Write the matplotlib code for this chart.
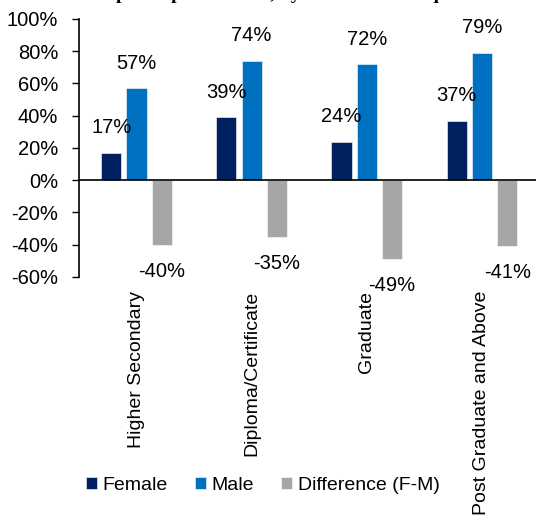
import numpy as np
import matplotlib.pyplot as plt

plt.rcParams['font.family'] = ['Liberation Sans', 'DejaVu Sans']

#Education levels and participation rates (%)
categories = ["Higher Secondary", "Diploma/Certificate", "Graduate", "Post Graduate and Above"]
female = [17, 39, 24, 37]
male = [57, 74, 72, 79]
difference = [-40, -35, -49, -41]

series_names = ["Female", "Male", "Difference (F-M)"]
colors = ["#002060", "#0070C0", "#A6A6A6"]

fig = plt.figure(figsize=(5.36, 5.16), dpi=100)
ax = fig.add_axes([0.1474, 0.4632, 0.8526, 0.5])

x = np.arange(len(categories))
width = 0.175
offsets = [-0.22, 0.0, 0.22]

for vals, name, col, off in zip([female, male, difference], series_names, colors, offsets):
    bars = ax.bar(x + off, vals, width, color=col, label=name, edgecolor="white", linewidth=0.4)
    for b, v in zip(bars, vals):
        xc = b.get_x() + b.get_width() / 2
        dy = 18 if v >= 0 else -19
        ax.annotate("%d%%" % v, (xc, v), xytext=(0, dy), textcoords="offset points",
                    ha="center", va="center", fontsize=14.5)

ax.axhline(0, color="black", linewidth=1.2, zorder=3)

ax.set_ylim(-60, 100)
ax.set_xlim(-0.5, 3.47)
ax.set_yticks(np.arange(-60, 101, 20))
ax.set_yticklabels(["%d%%" % t for t in np.arange(-60, 101, 20)], fontsize=14.5)
ax.tick_params(axis="y", direction="out", length=5, width=1, pad=10)

ax.set_xticks(x)
ax.set_xticklabels(categories, rotation=90, fontsize=14, va="top", ha="center")
ax.tick_params(axis="x", length=0, pad=10)

for s in ["top", "right", "bottom"]:
    ax.spines[s].set_visible(False)
ax.spines["left"].set_linewidth(1.2)

fig.legend(loc="center", bbox_to_anchor=(0.49, 0.06), ncol=3, frameon=False, fontsize=14,
           handlelength=0.55, handleheight=0.55, handletextpad=0.3, columnspacing=1.4)

#Chart title sits mostly above the top edge
fig.text(0.5, 1.0 + 1 / 516, "Labour force participation rates, by education and qualification",
         ha="center", va="baseline", fontsize=14, fontweight="bold", family="Liberation Serif")

fig.savefig("out.png", dpi=100)
